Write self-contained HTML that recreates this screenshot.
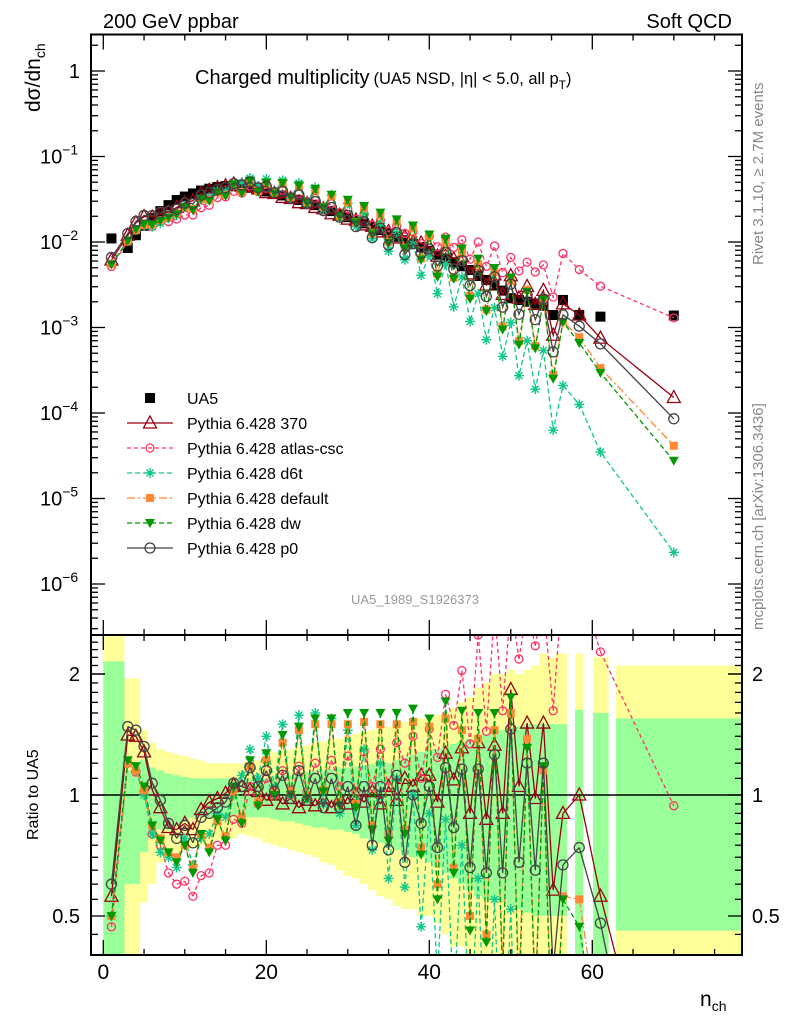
<!DOCTYPE html>
<html><head><meta charset="utf-8">
<style>
html,body{margin:0;padding:0;background:#fff;width:786px;height:1024px;overflow:hidden;}
svg{display:block;font-family:"Liberation Sans",sans-serif;}
</style></head>
<body>
<svg id="chart" width="786" height="1024" viewBox="0 0 786 1024" xmlns="http://www.w3.org/2000/svg">
<defs>
<clipPath id="clipMain"><rect x="91" y="34.5" width="651" height="600.5"/></clipPath>
<clipPath id="clipRatio"><rect x="91" y="635" width="651" height="320"/></clipPath>
</defs>
<g id="bands" clip-path="url(#clipRatio)"></g>
<g id="mainMarks" clip-path="url(#clipMain)"></g>
<g id="ratioMarks" clip-path="url(#clipRatio)"></g>
<g id="axes"></g>
<text x="103" y="28" font-size="20">200 GeV ppbar</text>
<text x="732" y="28" font-size="20" text-anchor="end">Soft QCD</text>
<text x="195" y="84" font-size="20">Charged multiplicity<tspan font-size="16.5" dx="4">(UA5 NSD, |η| &lt; 5.0, all p</tspan><tspan font-size="12" dy="5">T</tspan><tspan font-size="16.5" dy="-5">)</tspan></text>
<text transform="translate(40,112) rotate(-90)" font-size="21">dσ/dn<tspan font-size="14" dy="5">ch</tspan></text>
<text transform="translate(38,840) rotate(-90)" font-size="16">Ratio to UA5</text>
<text x="700" y="1006" font-size="21">n<tspan font-size="14" dy="5">ch</tspan></text>
<text x="415" y="604" font-size="13" fill="#999" text-anchor="middle">UA5_1989_S1926373</text>
<text transform="translate(763,265) rotate(-90)" font-size="15" fill="#888">Rivet 3.1.10, ≥ 2.7M events</text>
<text transform="translate(763,630) rotate(-90)" font-size="15" fill="#888">mcplots.cern.ch [arXiv:1306.3436]</text>
<g id="legend"></g>
</svg>
<script>
// ---- data ----
const nch = [1,3,4,5,6,7,8,9,10,11,12,13,14,15,16,17,18,19,20,21,22,23,24,25,26,27,28,29,30,31,32,33,34,35,36,37,38,39,40,41,42,43,44,45,46,47,48,49,50,51,52,53,54,55.2,56.4,58.4,61,70];
const ua5 = [0.011,0.0085,0.012,0.0155,0.019,0.023,0.027,0.031,0.034,0.037,0.040,0.042,0.044,0.045,0.045,0.044,0.043,0.041,0.039,0.037,0.035,0.033,0.031,0.029,0.027,0.025,0.023,0.021,0.0195,0.018,0.0165,0.015,0.0138,0.0126,0.0115,0.0105,0.0095,0.0087,0.0079,0.0071,0.0064,0.0058,0.0052,0.0047,0.004,0.0036,0.0031,0.0027,0.0022,0.0021,0.002,0.0019,0.0018,0.0014,0.0021,0.0014,0.00134,0.00138];
const r370 = [0.56,1.41,1.40,1.28,1.03,0.93,0.83,0.82,0.85,0.82,0.92,0.96,0.98,1.01,1.06,1.05,1.03,1.02,0.97,1.0,0.95,0.98,0.93,0.97,0.94,0.98,0.93,0.98,0.95,1.0,0.96,1.02,0.95,1.05,0.97,1.1,1.05,1.12,1.12,0.96,1.27,1.09,1.31,0.9,1.35,0.87,1.33,0.9,1.83,1.05,1.51,0.98,1.51,0.58,0.9,1.0,0.56,0.11];
const rAtlas = [0.47,1.2,1.14,1.02,0.8,0.75,0.64,0.6,0.61,0.56,0.63,0.64,0.75,0.75,0.87,0.85,1.05,0.95,1.1,1.0,1.15,1.0,1.18,1.02,1.2,1.03,1.22,1.05,1.25,1.02,1.28,1.05,1.3,1.05,1.35,1.2,1.4,1.1,1.46,1.24,1.78,1.49,2.04,1.34,2.5,1.44,2.9,1.62,3.0,2.18,2.9,2.35,3.0,1.62,3.5,3.4,2.27,0.94];
const rD6t = [0.5,1.2,1.15,1.0,0.8,0.72,0.7,0.66,0.78,0.67,0.78,0.8,0.9,0.88,1.0,1.12,1.3,1.1,1.4,1.05,1.5,1.0,1.58,0.98,1.6,0.95,1.55,0.9,1.45,0.84,1.3,0.73,1.2,0.62,1.1,0.59,1.0,0.47,0.9,0.35,0.87,0.3,0.75,0.25,0.62,0.2,0.55,0.17,0.52,0.13,0.35,0.1,0.3,0.045,0.1,0.09,0.026,0.0017];
const rDefault = [0.5,1.2,1.15,1.03,0.84,0.78,0.72,0.7,0.75,0.66,0.8,0.74,0.86,0.79,1.02,0.88,1.18,0.96,1.22,1.02,1.35,1.02,1.45,1.0,1.5,1.03,1.5,0.96,1.5,0.95,1.52,0.84,1.5,0.8,1.5,0.82,1.52,0.74,1.48,0.6,1.55,0.66,1.45,0.5,1.38,0.45,1.45,0.38,1.6,0.33,1.38,0.32,1.15,0.2,0.56,0.55,0.25,0.03];
const rDw = [0.5,1.22,1.18,1.05,0.84,0.77,0.72,0.68,0.75,0.64,0.8,0.72,0.87,0.77,1.05,0.85,1.22,0.94,1.27,1.0,1.41,1.0,1.48,0.98,1.55,1.02,1.55,0.94,1.6,0.93,1.6,0.82,1.6,0.77,1.6,0.8,1.64,0.71,1.55,0.55,1.71,0.64,1.62,0.46,1.6,0.43,1.6,0.35,1.75,0.3,1.31,0.3,1.18,0.18,0.55,0.47,0.22,0.02];
const rP0 = [0.6,1.48,1.45,1.32,1.07,0.97,0.85,0.78,0.84,0.76,0.88,0.9,0.93,0.96,1.07,1.05,1.17,1.05,1.15,1.02,1.12,0.98,1.15,0.97,1.1,0.93,1.1,0.93,1.05,0.84,1.05,0.75,1.05,0.73,1.12,0.68,1.0,0.85,1.05,0.74,1.17,0.83,1.16,0.66,1.16,0.64,1.26,0.64,1.46,0.68,1.2,0.65,1.2,0.37,0.67,0.74,0.48,0.062];
// uncertainty band bins
const bandLo = [0,2.6,4.5,5.5,6.5,7.5,8.5,9.5,10.5,11.5,12.5,13.5,14.5,15.5,16.5,17.5,18.5,19.5,20.5,21.5,22.5,23.5,24.5,25.5,26.5,27.5,28.5,29.5,30.5,31.5,32.5,33.5,34.5,35.5,36.5,37.5,38.5,39.5,40.5,41.5,42.5,43.5,44.5,45.5,46.5,47.5,48.5,49.5,50.5,51.5,52.5,53.5,54.5,55.5,57.9,60.1,62.9];
const bandHi = [2.6,4.5,5.5,6.5,7.5,8.5,9.5,10.5,11.5,12.5,13.5,14.5,15.5,16.5,17.5,18.5,19.5,20.5,21.5,22.5,23.5,24.5,25.5,26.5,27.5,28.5,29.5,30.5,31.5,32.5,33.5,34.5,35.5,36.5,37.5,38.5,39.5,40.5,41.5,42.5,43.5,44.5,45.5,46.5,47.5,48.5,49.5,50.5,51.5,52.5,53.5,54.5,55.5,56.9,58.9,62.0,78.4];
const yellowUp = [3.0,1.95,1.45,1.35,1.3,1.28,1.26,1.25,1.23,1.22,1.2,1.2,1.2,1.2,1.2,1.2,1.22,1.25,1.28,1.3,1.3,1.32,1.33,1.35,1.36,1.38,1.38,1.4,1.42,1.44,1.45,1.47,1.48,1.5,1.52,1.55,1.55,1.55,1.58,1.6,1.65,1.7,1.75,1.85,1.9,2.0,2.0,2.05,2.0,2.05,2.1,2.25,2.2,2.25,2.25,2.2,2.1];
const yellowDn = [0.3,0.3,0.54,0.6,0.68,0.7,0.72,0.73,0.74,0.75,0.76,0.77,0.78,0.78,0.8,0.79,0.78,0.76,0.75,0.74,0.73,0.72,0.71,0.7,0.68,0.67,0.65,0.63,0.62,0.6,0.58,0.56,0.55,0.53,0.52,0.52,0.5,0.5,0.48,0.45,0.42,0.42,0.4,0.3,0.3,0.3,0.3,0.3,0.3,0.3,0.3,0.3,0.3,0.3,0.3,0.3,0.3];
const greenUp = [2.15,1.15,1.22,1.17,1.15,1.13,1.12,1.11,1.1,1.1,1.1,1.1,1.1,1.1,1.1,1.1,1.1,1.1,1.11,1.12,1.12,1.13,1.14,1.15,1.15,1.16,1.17,1.17,1.18,1.18,1.19,1.2,1.2,1.22,1.24,1.26,1.28,1.3,1.3,1.32,1.34,1.36,1.38,1.4,1.42,1.44,1.45,1.47,1.48,1.5,1.5,1.5,1.5,1.5,1.63,1.6,1.55];
const greenDn = [0.3,0.6,0.72,0.8,0.82,0.82,0.84,0.86,0.88,0.88,0.88,0.88,0.88,0.88,0.88,0.88,0.88,0.88,0.87,0.86,0.86,0.85,0.84,0.83,0.83,0.82,0.82,0.81,0.8,0.78,0.77,0.76,0.74,0.73,0.72,0.7,0.7,0.68,0.66,0.64,0.62,0.6,0.58,0.56,0.55,0.55,0.54,0.53,0.52,0.51,0.5,0.5,0.5,0.5,0.3,0.4,0.46];
const mainTickLabels = ["1","10","10","10","10","10","10"];
const mainTickExps = ["","−1","−2","−3","−4","−5","−6"];
const xTickLabels = ["0","20","40","60"];
const ratioTickLabels = ["0.5","1","2"];

// ---- axis functions ----
const X0=91, X1=742, MT=34.5, MB=635, RB=955;
function xs(n){ return 103.3 + n*8.15; }
function ysMain(v){ return 71 - Math.log10(v)*85.5; }
function ysRatio(r){ return 795 - Math.log2(r)*121; }
const NS="http://www.w3.org/2000/svg";
function mk(tag, attrs, parent){ const e=document.createElementNS(NS,tag); for(const k in attrs) e.setAttribute(k,attrs[k]); parent.appendChild(e); return e; }

// clip a segment to y range [ya,yb]; returns null if invisible
function clipSeg(x1,y1,x2,y2,ya,yb){
  let t0=0,t1=1; const dy=y2-y1;
  if(dy===0){ if(y1<ya||y1>yb) return null; }
  else{
    let ta=(ya-y1)/dy, tb=(yb-y1)/dy;
    if(ta>tb){const t=ta;ta=tb;tb=t;}
    t0=Math.max(t0,ta); t1=Math.min(t1,tb);
    if(t0>t1) return null;
  }
  return [x1+(x2-x1)*t0,y1+dy*t0,x1+(x2-x1)*t1,y1+dy*t1];
}

// ---- bands ----
const gB=document.getElementById('bands');
for(let i=0;i<bandLo.length;i++){
  const x=xs(bandLo[i]), w=xs(bandHi[i])-x;
  const yt=Math.max(MB,ysRatio(yellowUp[i])), yb=Math.min(RB,ysRatio(yellowDn[i]));
  const y1=mk('rect',{x:x,y:yt,width:w,height:yb-yt,fill:'#ffff99'},gB);
  
  
  const gt=Math.max(MB,ysRatio(greenUp[i])), gb=Math.min(RB,ysRatio(greenDn[i]));
  const g1=mk('rect',{x:x,y:gt,width:w,height:gb-gt,fill:'#99ff99'},gB);
  
  
}
const unity=mk('line',{x1:X0,x2:X1,y1:ysRatio(1),y2:ysRatio(1),stroke:'#000','stroke-width':1.5},gB);



// ---- markers ----
function marker(type,color,x,y,parent){
  let e;
  if(type==='sq'){ e=mk('rect',{x:x-5,y:y-5,width:10,height:10,fill:color},parent); }
  else if(type==='sqs'){ e=mk('rect',{x:x-4,y:y-4,width:8,height:8,fill:color},parent); }
  else if(type==='tri'){ e=mk('path',{d:`M${x},${y-7}L${x+6.5},${y+5}L${x-6.5},${y+5}Z`,fill:'none',stroke:color,'stroke-width':1.3},parent); }
  else if(type==='dtri'){ e=mk('path',{d:`M${x-5},${y-4}L${x+5},${y-4}L${x},${y+5}Z`,fill:color},parent); }
  else if(type==='circ'){ e=mk('circle',{cx:x,cy:y,r:4,fill:'none',stroke:color,'stroke-width':1.3},parent); }
  else if(type==='ocirc'){ e=mk('circle',{cx:x,cy:y,r:5,fill:'none',stroke:color,'stroke-width':1.3},parent); }
  else if(type==='star'){ e=mk('path',{d:`M${x-5},${y}H${x+5}M${x},${y-5}V${y+5}M${x-3.5},${y-3.5}L${x+3.5},${y+3.5}M${x-3.5},${y+3.5}L${x+3.5},${y-3.5}`,stroke:color,'stroke-width':1.4},parent); }
  return e;
}
const series=[
  {key:'pythia-370',ratio:r370,color:'#990011',m:'tri',dash:'',label:'Pythia 6.428 370'},
  {key:'pythia-atlas-csc',ratio:rAtlas,color:'#ff3366',m:'circ',dash:'4,3',label:'Pythia 6.428 atlas-csc'},
  {key:'pythia-d6t',ratio:rD6t,color:'#11c888',m:'star',dash:'5,3',label:'Pythia 6.428 d6t'},
  {key:'pythia-default',ratio:rDefault,color:'#ff8833',m:'sqs',dash:'8,3,2,3',label:'Pythia 6.428 default'},
  {key:'pythia-dw',ratio:rDw,color:'#009900',m:'dtri',dash:'5,3',label:'Pythia 6.428 dw'},
  {key:'pythia-p0',ratio:rP0,color:'#444444',m:'ocirc',dash:'',label:'Pythia 6.428 p0'}
];
const gM=document.getElementById('mainMarks'), gR=document.getElementById('ratioMarks');
for(let i=0;i<nch.length;i++){
  const s=marker('sq','#000',xs(nch[i]),ysMain(ua5[i]),gM);
  
  
}
series.forEach(s=>{
  const mv=nch.map((n,i)=>ua5[i]*s.ratio[i]);
  const pm=nch.map((n,i)=>xs(n).toFixed(1)+','+ysMain(mv[i]).toFixed(1)).join(' ');
  const l1=mk('polyline',{points:pm,fill:'none',stroke:s.color,'stroke-width':1.3,'stroke-dasharray':s.dash},gM);
  
  
  // ratio line as clipped segments
  let d='';
  for(let i=0;i<nch.length-1;i++){
    const c=clipSeg(xs(nch[i]),ysRatio(s.ratio[i]),xs(nch[i+1]),ysRatio(s.ratio[i+1]),MB,RB);
    if(c) d+=`M${c[0].toFixed(1)},${c[1].toFixed(1)}L${c[2].toFixed(1)},${c[3].toFixed(1)}`;
  }
  const l2=mk('path',{d:d,fill:'none',stroke:s.color,'stroke-width':1.3,'stroke-dasharray':s.dash},gR);
  
  
  for(let i=0;i<nch.length;i++){
    const a=marker(s.m,s.color,xs(nch[i]),ysMain(mv[i]),gM);
    
    
    const yr=ysRatio(s.ratio[i]);
    if(yr<MB-6||yr>RB+6) continue;
    const b=marker(s.m,s.color,xs(nch[i]),yr,gR);
    
    
  }
});

// ---- axes ----
const gA=document.getElementById('axes');
const frameM=mk('rect',{x:X0,y:MT,width:X1-X0,height:MB-MT,fill:'none',stroke:'#000','stroke-width':2},gA);


const frameR=mk('rect',{x:X0,y:MB,width:X1-X0,height:RB-MB,fill:'none',stroke:'#000','stroke-width':2},gA);


function tick(x1,y1,x2,y2){ mk('line',{x1,y1,x2,y2,stroke:'#000','stroke-width':1.3},gA); }
for(let d=1;d>=-7;d--){
  for(let m=1;m<10;m++){
    const y=ysMain(m*Math.pow(10,d));
    if(y<MT||y>MB) continue;
    const L=(m===1)?14:7;
    tick(X0,y,X0+L,y); tick(X1,y,X1-L,y);
  }
}
for(let i=0;i<mainTickLabels.length;i++){
  const y=ysMain(Math.pow(10,-i));
  const t=mk('text',{x:80,y:y+7,'font-size':20,'text-anchor':'end'},gA);
  t.textContent=mainTickLabels[i];
  if(mainTickExps[i]){ const ts=mk('tspan',{dy:-9,'font-size':14},t); ts.textContent=mainTickExps[i]; t.setAttribute('text-anchor','start'); t.setAttribute('x',40); }
  
  
}
for(let n=0;n<=75;n+=5){
  const x=xs(n), L=(n%20===0)?15:6;
  tick(x,MT,x,MT+L); tick(x,MB,x,MB-L); tick(x,MB,x,MB+L); tick(x,RB,x,RB-L);
}
xTickLabels.forEach((lab,i)=>{
  const t=mk('text',{x:xs(i*20),y:979,'font-size':21,'text-anchor':'middle'},gA);
  t.textContent=lab;
  
  
});
const rt=[];
for(let v=0.4;v<1;v+=0.05) rt.push(v);
for(let v=1;v<2.6;v+=0.1) rt.push(v);
rt.forEach(v=>{
  const y=ysRatio(v); if(y<MB||y>RB) return;
  const major=[0.5,1,2].some(k=>Math.abs(k-v)<1e-6);
  const L=major?14:7;
  tick(X0,y,X0+L,y); tick(X1,y,X1-L,y);
});
tick(X0,ysRatio(2),X0+14,ysRatio(2)); tick(X1,ysRatio(2),X1-14,ysRatio(2));
[0.5,1,2].forEach((v,i)=>{
  const t=mk('text',{x:80,y:ysRatio(v)+7,'font-size':20,'text-anchor':'end'},gA);
  t.textContent=ratioTickLabels[i];
  
  
  const t2=mk('text',{x:752,y:ysRatio(v)+7,'font-size':20},gA);
  t2.textContent=ratioTickLabels[i];
  
  
});

// ---- legend ----
const gL=document.getElementById('legend');
let ly=398;
marker('sq','#000',150,ly,gL);
const ut=mk('text',{x:187,y:ly+6,'font-size':16},gL); ut.textContent='UA5';


series.forEach((s,i)=>{
  const y=ly+25*(i+1);
  mk('line',{x1:127,x2:173,y1:y,y2:y,stroke:s.color,'stroke-width':1.3,'stroke-dasharray':s.dash},gL);
  marker(s.m,s.color,150,y,gL);
  const t=mk('text',{x:187,y:y+6,'font-size':16},gL); t.textContent=s.label;
  
  
});
</script>
</body></html>
